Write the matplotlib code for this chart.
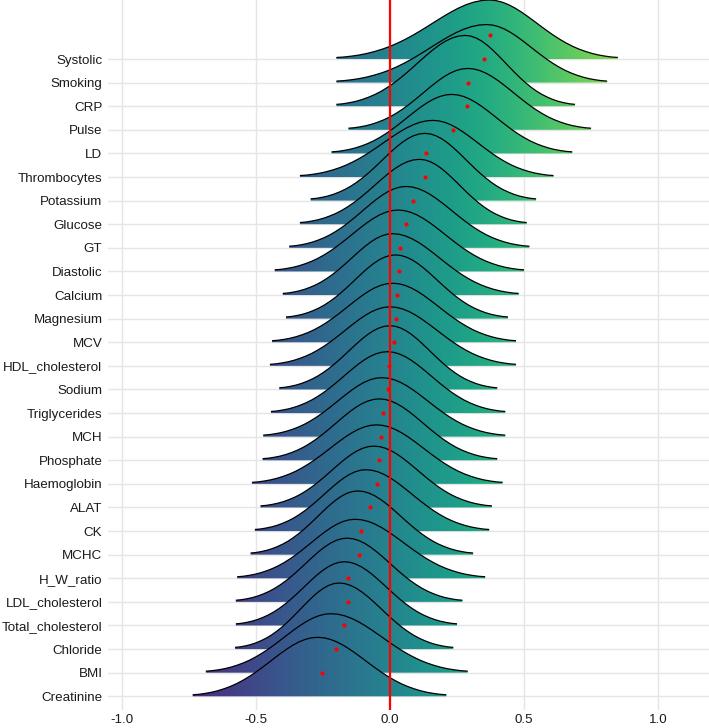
import numpy as np
import matplotlib
matplotlib.use("Agg")
import matplotlib.pyplot as plt
from matplotlib.patches import Polygon
from matplotlib.colors import Normalize

plt.rcParams['font.family'] = ['Liberation Sans', 'DejaVu Sans']

# rows from top to bottom
variables = ["Systolic", "Smoking", "CRP", "Pulse", "LD", "Thrombocytes", "Potassium",
             "Glucose", "GT", "Diastolic", "Calcium", "Magnesium", "MCV", "HDL_cholesterol",
             "Sodium", "Triglycerides", "MCH", "Phosphate", "Haemoglobin", "ALAT", "CK",
             "MCHC", "H_W_ratio", "LDL_cholesterol", "Total_cholesterol", "Chloride", "BMI",
             "Creatinine"]

# ridge extent: left tail, mode, right tail, mode height (rows)
left_ends = [-0.20, -0.20, -0.20, -0.155, -0.218, -0.336, -0.296, -0.336, -0.376, -0.43,
             -0.40, -0.388, -0.44, -0.448, -0.413, -0.444, -0.473, -0.475, -0.515, -0.483,
             -0.504, -0.52, -0.57, -0.575, -0.575, -0.578, -0.687, -0.736]
peak_x = [0.37, 0.36, 0.28, 0.29, 0.23, 0.16, 0.13, 0.11, 0.06, 0.03,
          0.01, 0.02, 0.01, 0.0, 0.0, -0.01, -0.03, -0.04, -0.05, -0.06,
          -0.09, -0.12, -0.13, -0.16, -0.17, -0.19, -0.22, -0.27]
right_ends = [0.85, 0.81, 0.69, 0.75, 0.68, 0.61, 0.545, 0.51, 0.52, 0.50,
              0.48, 0.44, 0.47, 0.47, 0.40, 0.43, 0.43, 0.40, 0.42, 0.38,
              0.37, 0.31, 0.355, 0.27, 0.25, 0.236, 0.29, 0.21]
peak_h = [2.5, 2.46, 3.0, 2.6, 2.5, 2.4, 2.85, 2.75, 2.6, 2.6,
          2.6, 2.7, 2.5, 2.5, 2.7, 2.6, 2.5, 2.6, 2.5, 2.6,
          2.6, 2.7, 2.5, 2.7, 2.7, 2.8, 2.5, 2.5]
# red dots (means)
means = [0.373, 0.352, 0.29, 0.287, 0.236, 0.134, 0.13, 0.085, 0.06, 0.037,
         0.032, 0.027, 0.021, 0.015, -0.002, -0.006, -0.025, -0.034, -0.041, -0.047,
         -0.075, -0.107, -0.117, -0.155, -0.158, -0.17, -0.20, -0.254]

# relative ridge profile (tail -> mode)
rise = [0.026, 0.034, 0.049, 0.068, 0.094, 0.127, 0.166, 0.213, 0.269, 0.332, 0.402,
        0.478, 0.558, 0.640, 0.720, 0.796, 0.864, 0.921, 0.964, 0.991, 1.0]
fall = rise[::-1]

xticks = [-1.0, -0.5, 0.0, 0.5, 1.0]
xticklabels = ["-1.0", "-0.5", "0.0", "0.5", "1.0"]


def main():
    n = len(variables)
    xlim = (-1.052, 1.19)
    ylim = (0.42, n + 2.5)

    fig = plt.figure(figsize=(7.09, 7.28), dpi=100)
    ax = fig.add_axes([108 / 709, 18 / 728, 1 - 108 / 709, 1 - 18 / 728])

    grad = np.linspace(xlim[0], xlim[1], 800).reshape(1, -1)
    norm = Normalize(-1.0, 1.23)
    t = np.linspace(0, 1, len(rise))

    for i, name in enumerate(variables):
        base = n - i
        L, P, R, H = left_ends[i], peak_x[i], right_ends[i], peak_h[i]
        xs = np.concatenate([L + t * (P - L), P + t[1:] * (R - P)])
        ys = base + H * np.concatenate([rise, fall[1:]])
        poly = np.column_stack([np.r_[xs, xs[-1], xs[0]], np.r_[ys, base, base]])
        patch = Polygon(poly, closed=True, facecolor='none', edgecolor='none',
                        transform=ax.transData)
        ax.add_patch(patch)
        im = ax.imshow(grad, extent=(xlim[0], xlim[1], ylim[0], ylim[1]), aspect='auto',
                       cmap='viridis', norm=norm, origin='lower', zorder=2 + i * 0.01,
                       interpolation='bilinear')
        im.set_clip_path(patch)
        ax.plot(xs, ys, color='black', lw=0.9, zorder=2 + i * 0.01 + 0.005,
                solid_capstyle='butt')

    ax.axvline(0, color='red', lw=1.6, zorder=5)
    ax.scatter(means, [n - i + 1 for i in range(n)], s=9, color='red', zorder=6,
               linewidths=0)

    ax.set_xlim(*xlim)
    ax.set_ylim(*ylim)
    ax.set_xticks(xticks)
    ax.set_xticklabels(xticklabels)
    ax.set_yticks([n - i for i in range(n)])
    ax.set_yticklabels(variables)
    ax.tick_params(length=0, labelsize=9.6, labelcolor='#1a1a1a')
    ax.tick_params(axis='y', pad=4)
    ax.tick_params(axis='x', pad=3)
    ax.grid(color='#e5e5e5', lw=1.0)
    ax.set_axisbelow(True)
    for s in ax.spines.values():
        s.set_visible(False)

    fig.savefig("out.png", dpi=100)


if __name__ == "__main__":
    main()
